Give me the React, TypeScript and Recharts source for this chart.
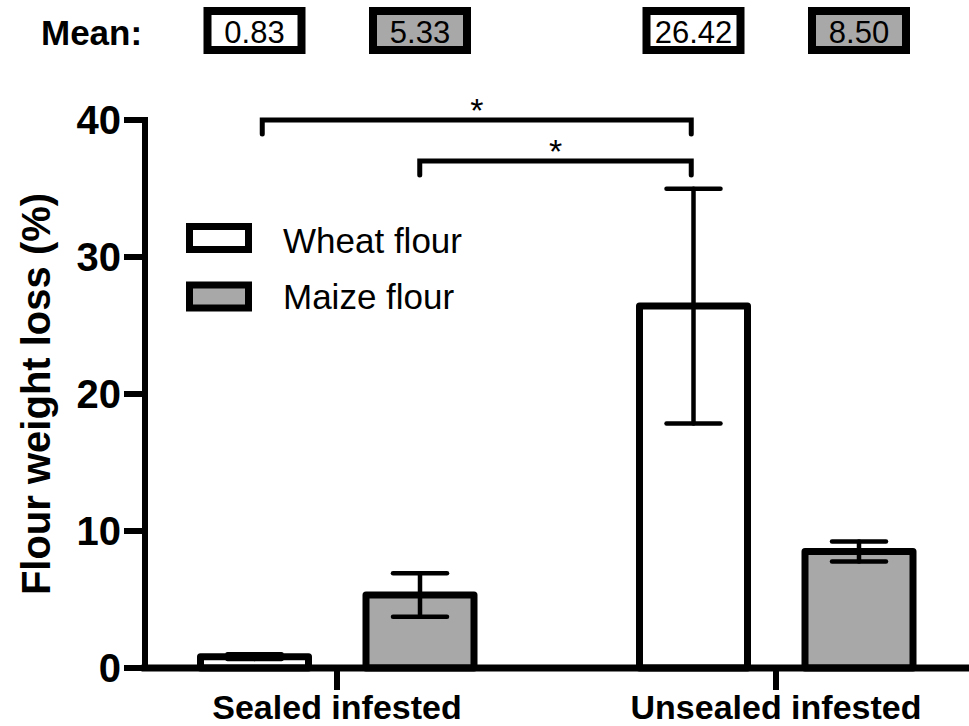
import React from 'react';
import { BarChart, Bar, XAxis, YAxis, ErrorBar, Legend, LabelList } from 'recharts';

const categories = ['Sealed infested', 'Unsealed infested'];
const wheatMeans = [0.83, 26.42];
const maizeMeans = [5.33, 8.5];
const wheatErrors = [0.18, 8.57];
const maizeErrors = [1.58, 0.73];
const yTicks = [0, 10, 20, 30, 40];

const series = [
    { key: 'wheat', name: 'Wheat flour', fill: '#ffffff' },
    { key: 'maize', name: 'Maize flour', fill: '#a8a8a8' },
];

// significance brackets: [category, series] -> [category, series], bracket height in data units
const brackets = [
    { from: [0, 0], to: [1, 0], level: 40, mark: '*' },
    { from: [0, 1], to: [1, 0], level: 37, mark: '*' },
];

const data = categories.map((name, i) => ({
    name,
    wheat: wheatMeans[i],
    maize: maizeMeans[i],
    wheatErr: wheatErrors[i],
    maizeErr: maizeErrors[i],
}));

const W = 969;
const H = 726;
const TOP = 120;
const X_AXIS_H = 58;
const Y_AXIS_W = 145;
const PAD_L = -27.5;
const PAD_R = -26.5;
const BAR_SIZE = 108;
const BAR_GAP = 57.5;
const FONT = "'Liberation Sans', Arial, Helvetica, sans-serif";

const BAND = (W - Y_AXIS_W - PAD_L - PAD_R) / categories.length;
const PLOT_H = H - TOP - X_AXIS_H;
const Y_MAX = yTicks[yTicks.length - 1];

const barCenter = (cat: number, s: number) =>
    Y_AXIS_W + PAD_L + cat * BAND + (BAND - (series.length * BAR_SIZE + (series.length - 1) * BAR_GAP)) / 2 +
    s * (BAR_SIZE + BAR_GAP) + BAR_SIZE / 2;
const yPx = (v: number) => TOP + (1 - v / Y_MAX) * PLOT_H;

const meanBox = (fill: string) => (props: any) => {
    const vb = props.viewBox || props;
    const cx = Number(vb.x) + Number(vb.width) / 2;
    return (
        <g>
            <rect x={cx - 47} y={11} width={94} height={39} fill={fill} stroke='#000' strokeWidth={8}/>
            <text x={cx} y={43} textAnchor='middle' fontSize={31} fontFamily={FONT} fill='#000'>
                {Number(props.value).toFixed(2)}
            </text>
        </g>
    );
};

const yTitle = (props: any) => {
    const vb = props.viewBox;
    const cx = vb.x + 50;
    const cy = vb.y + vb.height / 2;
    return (
        <text x={cx} y={cy} textAnchor='middle' fontSize={40} fontWeight='bold' fontFamily={FONT}
              fill='#000' transform={`rotate(-90 ${cx} ${cy})`}>
            Flour weight loss (%)
        </text>
    );
};

const LegendBox = () => (
    <svg width={320} height={110} style={{ display: 'block' }}>
        {series.map((s, i) => (
            <g key={s.key}>
                <rect x={3.5} y={13.5 + i * 58.5} width={59} height={23} fill={s.fill} stroke='#000' strokeWidth={7}/>
                <text x={97} y={40 + i * 56} fontSize={35} fontFamily={FONT} fill='#000'>{s.name}</text>
            </g>
        ))}
    </svg>
);

const App: React.FC = () => (
    <div style={{ position: 'absolute', left: 0, top: 0, width: W, height: H, background: '#fff' }}>
        <BarChart width={W} height={H} data={data} barSize={BAR_SIZE} barGap={BAR_GAP}
                  margin={{ top: TOP, right: 0, bottom: 0, left: 0 }}>
            <XAxis dataKey='name' height={X_AXIS_H} padding={{ left: PAD_L, right: PAD_R }}
                   axisLine={{ stroke: '#000', strokeWidth: 7, strokeLinecap: 'square' }}
                   tickLine={{ stroke: '#000', strokeWidth: 6 }} tickSize={22} tickMargin={5}
                   tick={{ fontSize: 34, fontWeight: 'bold', fill: '#000', fontFamily: FONT }}/>
            <YAxis width={Y_AXIS_W} domain={[0, Y_MAX]} ticks={yTicks} interval={0}
                   axisLine={{ stroke: '#000', strokeWidth: 6, strokeLinecap: 'square' }}
                   tickLine={{ stroke: '#000', strokeWidth: 6 }} tickSize={21} tickMargin={3}
                   tick={{ fontSize: 40, fontWeight: 'bold', fill: '#000', fontFamily: FONT }}
                   label={{ value: 'Flour weight loss (%)', content: yTitle }}/>
            <Legend layout='vertical' align='center' verticalAlign='middle' content={LegendBox}
                    wrapperStyle={{ left: 186, top: 213, width: 320, height: 110 }}/>
            {series.map((s) => (
                <Bar key={s.key} dataKey={s.key} name={s.name} fill={s.fill} stroke='#000' strokeWidth={7}
                     strokeLinejoin='round' isAnimationActive={false}>
                    <ErrorBar dataKey={`${s.key}Err`} width={27} stroke='#000' strokeWidth={4.5}
                              strokeLinecap='round' direction='y'/>
                    <LabelList dataKey={s.key} content={meanBox(s.fill)}/>
                </Bar>
            ))}
        </BarChart>
        <svg width={W} height={H} style={{ position: 'absolute', left: 0, top: 0, pointerEvents: 'none' }}>
            <text x={41} y={45} fontSize={35} fontWeight='bold' fontFamily={FONT} fill='#000'>Mean:</text>
            {brackets.map((b, i) => {
                const x1 = barCenter(b.from[0], b.from[1]) + (i === 0 ? 8 : 0);
                const x2 = barCenter(b.to[0], b.to[1]) - 2;
                const y = yPx(b.level);
                return (
                    <g key={i}>
                        <path d={`M${x1},${y + 14} L${x1},${y} L${x2},${y} L${x2},${y + 14}`} fill='none'
                              stroke='#000' strokeWidth={5} strokeLinecap='round'/>
                        <text x={(x1 + x2) / 2} y={y + 2} textAnchor='middle' fontSize={34} fontFamily={FONT}
                              fill='#000'>{b.mark}</text>
                    </g>
                );
            })}
        </svg>
    </div>
);

export default App;
